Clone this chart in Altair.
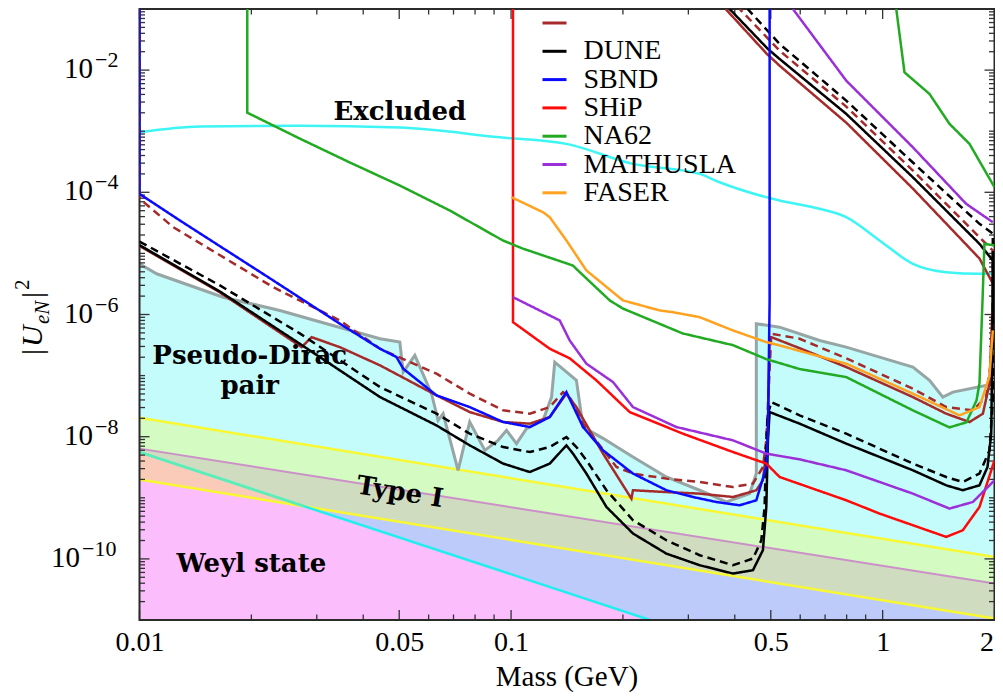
import altair as alt
import pandas as pd

FONT = "Liberation Serif"
BFONT = "DejaVu Serif"

# ---------------- data (mass in GeV, |U_eN|^2) ----------------
legend_names = [" ", "DUNE", "SBND", "SHiP", "NA62", "MATHUSLA", "FASER"]
legend_colors = ["#a52a2a", "#000000", "#0a0aff", "#ff0a0a", "#22aa22", "#9b30d9", "#ffa21f"]

brown_m = [0.0100, 0.01646, 0.02731, 0.02905, 0.03461, 0.0444, 0.0630, 0.0774, 0.0952, 0.1123,
           0.1271, 0.1409, 0.1499, 0.1768, 0.2108, 0.2129, 0.2618, 0.3218, 0.3955, 0.4571,
           0.4762, 0.4903, 0.4964, 0.5016, 0.5978, 0.798, 1.206, 1.483, 1.713, 1.861,
           1.939, 1.979, 1.979, 1.822, 1.206, 0.798, 0.5281, 0.4872, 0.378]
brown_u = [1.32e-5, 2.3e-6, 2.92e-7, 4.26e-7, 2.92e-7, 1.47e-7, 4.75e-8, 2.53e-8, 1.74e-8, 1.635e-8,
           2.10e-8, 5.06e-8, 3.05e-8, 5.28e-9, 9.70e-10, 1.33e-9, 1.24e-9, 1.17e-9, 1.03e-9, 1.33e-9,
           1.93e-9, 8.72e-9, 4.26e-7, 4.26e-7, 2.81e-7, 1.38e-7, 4.45e-8, 2.38e-8, 1.74e-8, 2.38e-8,
           7.37e-8, 1.70e-6, 3.22e-6, 8.25e-6, 1.15e-4, 1.38e-3, 1.18e-2, 1.86e-2, 0.1]

brownd_m = [0.0100, 0.0100, 0.01233, 0.0229, 0.03461, 0.0444, 0.0630, 0.0774, 0.0952, 0.1123,
            0.1271, 0.138, 0.1438, 0.1562, 0.1921, 0.2129, 0.2618, 0.3218, 0.3955, 0.4477,
            0.4762, 0.4863, 0.5016, 0.5978, 0.798, 1.206, 1.483, 1.749, 1.899, 1.979,
            1.979, 1.822, 1.206, 0.798, 0.5281, 0.4122]
brownd_u = [0.1, 7.90e-5, 2.68e-5, 2.80e-6, 7.99e-7, 2.75e-7, 1.075e-7, 5.06e-8, 2.70e-8, 2.38e-8,
            3.05e-8, 5.37e-8, 4.45e-8, 1.635e-8, 3.19e-9, 2.49e-9, 2.06e-9, 1.81e-9, 1.50e-9, 1.71e-9,
            3.19e-9, 8.72e-9, 4.85e-7, 4.01e-7, 1.92e-7, 6.11e-8, 3.05e-8, 2.70e-8, 4.45e-8, 2.81e-7,
            1.116e-5, 1.84e-5, 2.27e-4, 2.53e-3, 2.08e-2, 0.1]

dune_m = [0.0100, 0.01646, 0.0270, 0.0444, 0.0630, 0.0774, 0.0952, 0.1123, 0.1271, 0.1409,
          0.1468, 0.1595, 0.1806, 0.2129, 0.2618, 0.3218, 0.3955, 0.4477, 0.4762, 0.4863,
          0.4912, 0.4964, 0.5978, 0.798, 1.206, 1.483, 1.643, 1.822, 1.915, 1.960,
          1.979, 1.979, 1.822, 1.206, 0.798, 0.5281, 0.4903, 0.3874]
dune_u = [1.37e-5, 2.38e-6, 3.32e-7, 4.45e-8, 1.53e-8, 7.22e-9, 3.63e-9, 2.64e-9, 3.63e-9, 7.22e-9,
          5.28e-9, 2.49e-9, 7.07e-10, 2.60e-10, 1.22e-10, 7.88e-11, 5.76e-11, 6.53e-11, 1.39e-10, 7.07e-10,
          8.72e-9, 2.53e-8, 1.635e-8, 7.70e-9, 2.82e-9, 1.60e-9, 1.33e-9, 1.60e-9, 3.19e-9, 1.12e-8,
          1.70e-6, 7.65e-6, 1.435e-5, 1.76e-4, 1.92e-3, 1.52e-2, 2.24e-2, 0.1]

duned_m = [0.0100, 0.01646, 0.0270, 0.0444, 0.0630, 0.0774, 0.0952, 0.1123, 0.1271, 0.1409,
           0.1499, 0.1595, 0.1806, 0.2129, 0.2618, 0.3218, 0.3955, 0.4477, 0.4715, 0.4812,
           0.4863, 0.4903, 0.5016, 0.5978, 0.798, 1.206, 1.483, 1.643, 1.822, 1.939,
           1.979, 1.979, 1.822, 1.206, 0.798, 0.5281, 0.4332]
duned_u = [1.565e-5, 2.99e-6, 4.90e-7, 6.49e-8, 2.38e-8, 1.12e-8, 6.77e-9, 5.61e-9, 6.77e-9, 9.87e-9,
           6.77e-9, 4.11e-9, 1.33e-9, 4.29e-10, 2.02e-10, 1.148e-10, 7.88e-11, 1.013e-10, 2.02e-10, 7.07e-10,
           8.72e-9, 2.235e-8, 3.69e-8, 2.235e-8, 1.12e-8, 3.63e-9, 2.19e-9, 1.81e-9, 2.49e-9, 5.98e-9,
           3.93e-8, 2.12e-5, 3.05e-5, 3.07e-4, 3.17e-3, 2.68e-2, 0.1]

sbnd_m = [0.0100, 0.0100, 0.01285, 0.0229, 0.03461, 0.0444, 0.04918, 0.05124, 0.0630, 0.0774,
          0.0952, 0.1123, 0.1271, 0.1409, 0.1562, 0.1768, 0.2129, 0.2618, 0.3087, 0.3568,
          0.4122, 0.4571, 0.4863, 0.4912, 0.4964, 0.4964]
sbnd_u = [0.1, 9.43e-5, 3.45e-5, 3.61e-6, 7.06e-7, 2.75e-7, 2.01e-7, 1.30e-7, 4.75e-8, 3.05e-8,
          1.74e-8, 1.44e-8, 2.10e-8, 5.37e-8, 1.44e-8, 5.98e-9, 2.49e-9, 1.33e-9, 1.03e-9, 8.54e-10,
          7.54e-10, 9.11e-10, 3.19e-9, 1.12e-8, 1.70e-6, 0.1]

ship_m = [0.1012, 0.1012, 0.1271, 0.1438, 0.1697, 0.2086, 0.2901, 0.3955, 0.4863, 0.5281,
          0.798, 0.981, 1.483, 1.643, 1.822, 2.0]
ship_u = [0.1, 7.50e-7, 2.75e-7, 1.92e-7, 8.35e-8, 2.53e-8, 1.12e-8, 5.61e-9, 3.63e-9, 2.19e-9,
          9.11e-10, 5.52e-10, 2.29e-10, 2.94e-10, 7.07e-10, 4.11e-9]

na62_m = [0.0195, 0.0195, 0.0270, 0.03684, 0.05019, 0.06842, 0.0950, 0.1075, 0.1466, 0.1595,
          0.1843, 0.1997, 0.2896, 0.3955, 0.4863, 0.5978, 0.798, 1.206, 1.513, 1.681,
          1.789, 1.822, 1.857, 1.879, 2.0]
na62_u = [0.1, 2.01e-3, 7.57e-4, 3.07e-4, 1.29e-4, 5.03e-5, 1.63e-5, 1.20e-5, 6.34e-6, 3.89e-6,
          1.70e-6, 1.256e-6, 4.90e-7, 3.15e-7, 1.86e-7, 1.28e-7, 9.45e-8, 2.70e-8, 1.42e-8, 1.72e-8,
          3.93e-8, 7.45e-8, 1.70e-6, 1.435e-5, 1.35e-5]
na62_up_m = [1.088, 1.145, 1.337, 1.513, 1.713, 2.0]
na62_up_u = [0.1, 9.19e-3, 4.07e-3, 1.32e-3, 6.20e-4, 1.21e-4]

math_m = [0.1012, 0.1352, 0.1438, 0.1595, 0.1881, 0.2129, 0.2785, 0.3955, 0.4863, 0.5978,
          0.798, 1.206, 1.513, 1.749, 2.0]
math_u = [1.92e-6, 7.99e-7, 3.76e-7, 1.565e-7, 7.83e-8, 3.05e-8, 1.44e-8, 8.72e-9, 5.28e-9, 4.26e-9,
          2.82e-9, 1.17e-9, 6.66e-10, 8.54e-10, 1.93e-9]
math_up_m = [0.5735, 0.798, 1.206, 1.678, 1.979]
math_up_u = [0.1, 6.72e-3, 5.45e-4, 6.47e-5, 3.24e-5]

faser_m = [0.1002, 0.1219, 0.1271, 0.1409, 0.1595, 0.2001, 0.2512, 0.2728, 0.3218, 0.3955,
           0.4863, 0.5281, 0.798, 1.206, 1.610, 1.822, 1.939, 1.979]
faser_u = [8.30e-5, 4.72e-5, 3.91e-5, 1.63e-5, 5.25e-6, 1.70e-6, 1.165e-6, 1.09e-6, 9.05e-7, 5.48e-7,
           3.53e-7, 3.12e-7, 1.565e-7, 5.06e-8, 2.235e-8, 3.05e-8, 9.75e-8, 5.48e-7]

# existing bound (light cyan line)
bound_m = [0.0100, 0.01455, 0.0270, 0.05019, 0.0932, 0.1409, 0.2129, 0.3218, 0.3642, 0.5281,
           0.6492, 0.798, 0.981, 1.206, 1.483, 1.822, 2.0]
bound_u = [9.60e-4, 1.19e-3, 1.23e-3, 1.145e-3, 7.95e-4, 6.20e-4, 2.92e-4, 2.00e-4, 1.46e-4, 7.33e-5,
           5.69e-5, 3.91e-5, 1.63e-5, 6.76e-6, 4.93e-6, 4.64e-6, 4.64e-6]

# pseudo-Dirac region boundary (gray)
gray_m = [0.0100, 0.01112, 0.0168, 0.02387, 0.03188, 0.0444, 0.05019, 0.05124, 0.05508, 0.06108,
          0.06362, 0.06564, 0.07201, 0.0774, 0.0850, 0.09226, 0.0972, 0.1034, 0.1100, 0.1219,
          0.1285, 0.1311, 0.1499, 0.1562, 0.1768, 0.2129, 0.2618, 0.3218, 0.3796, 0.4385,
          0.4571, 0.4571, 0.5281, 0.6767, 0.798, 0.981, 1.206, 1.337, 1.452, 1.545, 2.0]
gray_u = [6.76e-6, 4.64e-6, 1.92e-6, 1.165e-6, 7.06e-7, 4.01e-7, 3.53e-7, 1.14e-7, 2.14e-7, 5.06e-8,
          1.85e-8, 2.38e-8, 2.82e-9, 1.74e-8, 5.98e-9, 8.72e-9, 1.27e-8, 7.70e-9, 1.35e-8, 1.85e-8,
          4.45e-8, 1.66e-7, 8.35e-8, 1.44e-8, 9.40e-9, 4.65e-9, 2.19e-9, 1.33e-9, 8.54e-10, 1.17e-9,
          2.49e-9, 7.06e-7, 6.21e-7, 3.76e-7, 2.92e-7, 2.01e-7, 1.38e-7, 8.35e-8, 4.45e-8, 5.37e-8, 7.37e-8]

# Type I band and Weyl line
band_m = [0.01, 2.0]
band_hi = [2.05e-8, 1.07e-10]
band_mid = [6.38e-9, 3.95e-11]
band_lo = [1.985e-9, 1.06e-11]
weyl_m = [0.01, 0.2366]
weyl_u = [5.6e-9, 1.0e-11]
overlap_m = [0.01, 0.02786]
overlap_top = [5.6e-9, 7.21e-10]
overlap_bot = [1.985e-9, 7.21e-10]
U_MIN = 1e-11

# axis ticks
x_label_vals = [0.01, 0.05, 0.1, 0.5, 1, 2]
x_minor_vals = [0.02, 0.03, 0.04, 0.06, 0.07, 0.08, 0.09, 0.2, 0.3, 0.4, 0.6, 0.7, 0.8, 0.9]
y_label_vals = [1e-2, 1e-4, 1e-6, 1e-8, 1e-10]
y_label_exp = ["\u22122", "\u22124", "\u22126", "\u22128", "\u221210"]
y_minor_vals = [k * 10.0 ** e for e in range(-11, -1) for k in range(1, 10)
                if not (k == 1 and e % 2 == 0) and not (k == 1 and e == -11)]

# annotations
ann_text = ["Excluded", "Pseudo-Dirac", "pair", "Weyl state"]
ann_m = [0.0502, 0.0198, 0.0198, 0.0200]
ann_u = [1.52e-3, 1.565e-7, 5.06e-8, 6.12e-11]

# ---------------- chart ----------------
W, H = 855, 611
TICK = "#333333"

xs = alt.Scale(type="log", domain=[0.01, 2], nice=False)
ys = alt.Scale(type="log", domain=[U_MIN, 0.1], nice=False)
xaxis = alt.Axis(values=x_label_vals, format="~g", labelFont=FONT, labelFontSize=28,
                 labelColor="black", labelPadding=8, ticks=False, tickSize=0, domain=False,
                 grid=False, labelFlush=False, labelOverlap=False, title=None,
                 labelAlign={"condition": {"test": "datum.value >= 2", "value": "right"},
                             "value": "center"},
                 labelOffset={"condition": {"test": "datum.value >= 2", "value": -1},
                              "value": 0})


def X(f="m"):
    return alt.X(f"{f}:Q", scale=xs, axis=xaxis)


def Y(f="u"):
    return alt.Y(f"{f}:Q", scale=ys, axis=None)


gray_df = pd.DataFrame({"m": gray_m, "u": gray_u, "idx": list(range(len(gray_m)))})
gray_df["b"] = U_MIN
band_df = pd.DataFrame({"m": band_m, "hi": band_hi, "mid": band_mid, "lo": band_lo})
band_df["b"] = U_MIN
weyl_df = pd.DataFrame({"m": weyl_m, "u": weyl_u})
weyl_df["b"] = U_MIN
ov_df = pd.DataFrame({"m": overlap_m, "t": overlap_top, "lo": overlap_bot})
bound_df = pd.DataFrame({"m": bound_m, "u": bound_u})

fill_cyan = alt.Chart(gray_df).mark_area(color="#c4fbfb", opacity=1).encode(
    x=X(), y=Y(), y2=alt.Y2("b:Q"))
fill_green = alt.Chart(band_df).mark_area(color="#d3fbc2", opacity=1).encode(
    x=X(), y=Y("hi"), y2=alt.Y2("mid:Q"))
fill_olive = alt.Chart(band_df).mark_area(color="#d0dcbf", opacity=1).encode(
    x=X(), y=Y("mid"), y2=alt.Y2("lo:Q"))
fill_lav = alt.Chart(band_df).mark_area(color="#bdcbfb", opacity=1).encode(
    x=X(), y=Y("lo"), y2=alt.Y2("b:Q"))
fill_pink = alt.Chart(weyl_df).mark_area(color="#fbbdfb", opacity=1).encode(
    x=X(), y=Y(), y2=alt.Y2("b:Q"))
fill_salmon = alt.Chart(ov_df).mark_area(color="#fbcbb9", opacity=1).encode(
    x=X(), y=Y("t"), y2=alt.Y2("lo:Q"))

line_hi = alt.Chart(band_df).mark_line(color="#f8f832", strokeWidth=2.5).encode(x=X(), y=Y("hi"))
line_lo = alt.Chart(band_df).mark_line(color="#f8f832", strokeWidth=2.5).encode(x=X(), y=Y("lo"))
line_mid = alt.Chart(band_df).mark_line(color="#cc90c8", strokeWidth=2).encode(x=X(), y=Y("mid"))
line_weyl = alt.Chart(weyl_df).mark_line(color="#22eeee", strokeWidth=2.5).encode(x=X(), y=Y())
line_weyl2 = alt.Chart(ov_df).mark_line(color="#5eeeb4", strokeWidth=2.5).encode(x=X(), y=Y("t"))

line_gray = alt.Chart(gray_df).mark_line(color="#97a5a5", strokeWidth=3).encode(
    x=X(), y=Y(), order="idx:Q")
line_bound = alt.Chart(bound_df).mark_line(color="#3df5f5", strokeWidth=2.5,
                                           interpolate="monotone").encode(x=X(), y=Y())


def seg(series, style, sid, ms, us):
    return pd.DataFrame({"series": series, "style": style, "seg": sid,
                         "idx": list(range(len(ms))), "m": ms, "u": us})


exp_df = pd.concat([
    seg(" ", "dashed", "b_d", brownd_m, brownd_u),
    seg(" ", "solid", "b_s", brown_m, brown_u),
    seg("DUNE", "dashed", "d_d", duned_m, duned_u),
    seg("DUNE", "solid", "d_s", dune_m, dune_u),
    seg("SBND", "solid", "sb", sbnd_m, sbnd_u),
    seg("SHiP", "solid", "sh", ship_m, ship_u),
    seg("NA62", "solid", "na_l", na62_m, na62_u),
    seg("NA62", "solid", "na_u", na62_up_m, na62_up_u),
    seg("MATHUSLA", "solid", "ma_l", math_m, math_u),
    seg("MATHUSLA", "solid", "ma_u", math_up_m, math_up_u),
    seg("FASER", "solid", "fa", faser_m, faser_u),
], ignore_index=True)

exp = alt.Chart(exp_df).mark_line(strokeWidth=2.5, clip=True).encode(
    x=X(), y=Y(),
    color=alt.Color("series:N", scale=alt.Scale(domain=legend_names, range=legend_colors),
                    legend=alt.Legend(title=None, orient="none", legendX=401, legendY=0,
                                      symbolType="stroke", symbolSize=576, symbolStrokeWidth=3,
                                      labelFont=FONT, labelFontSize=28, labelColor="black",
                                      labelOffset=15, rowPadding=0.3, padding=0)),
    strokeDash=alt.StrokeDash("style:N", scale=alt.Scale(domain=["solid", "dashed"],
                                                         range=[[1, 0], [8, 5]]), legend=None),
    detail="seg:N",
    order="idx:Q",
)

ann_df = pd.DataFrame({"m": ann_m, "u": ann_u, "t": ann_text})
ann = alt.Chart(ann_df).mark_text(font=BFONT, fontWeight="bold", fontSize=26, align="center",
                                  baseline="alphabetic", color="black").encode(
    x=X(), y=Y(), text="t:N")
type1 = alt.Chart(pd.DataFrame({"m": [0.0502], "u": [1.23e-9], "t": ["Type I"]})).mark_text(
    font=BFONT, fontWeight="bold", fontSize=26, align="center", baseline="middle", angle=9,
    color="black").encode(x=X(), y=Y(), text="t:N")

# ticks (inward, on all four sides)
xmaj = pd.DataFrame({"m": x_label_vals})
xmin = pd.DataFrame({"m": x_minor_vals})
ymaj = pd.DataFrame({"u": y_label_vals})
ymin = pd.DataFrame({"u": y_minor_vals})
rk = dict(color=TICK, strokeWidth=1.3)
ticks = [
    alt.Chart(xmaj).mark_rule(**rk).encode(x=X(), y=alt.value(H), y2=alt.value(H - 10)),
    alt.Chart(xmaj).mark_rule(**rk).encode(x=X(), y=alt.value(0), y2=alt.value(10)),
    alt.Chart(xmin).mark_rule(**rk).encode(x=X(), y=alt.value(H), y2=alt.value(H - 5.5)),
    alt.Chart(xmin).mark_rule(**rk).encode(x=X(), y=alt.value(0), y2=alt.value(5.5)),
    alt.Chart(ymaj).mark_rule(**rk).encode(y=Y(), x=alt.value(0), x2=alt.value(10)),
    alt.Chart(ymaj).mark_rule(**rk).encode(y=Y(), x=alt.value(W), x2=alt.value(W - 10)),
    alt.Chart(ymin).mark_rule(**rk).encode(y=Y(), x=alt.value(0), x2=alt.value(5.5)),
    alt.Chart(ymin).mark_rule(**rk).encode(y=Y(), x=alt.value(W), x2=alt.value(W - 5.5)),
]
one = pd.DataFrame({"a": [0]})
frame = alt.Chart(one).mark_rect(filled=False, stroke="#2b2b2b", strokeWidth=2).encode(
    x=alt.value(0), x2=alt.value(W), y=alt.value(0), y2=alt.value(H))

# y tick labels 10^n
ylab_df = pd.DataFrame({"u": y_label_vals, "exp": y_label_exp, "base": "10"})
ylabs = []
for cond, xb, xe in [("length(datum.exp) <= 2", -46.5, -44.5), ("length(datum.exp) > 2", -59.5, -57.5)]:
    base = alt.Chart(ylab_df).transform_filter(cond)
    ylabs.append(base.mark_text(font=FONT, fontSize=29, align="right", baseline="alphabetic",
                                dy=8, color="black").encode(y=Y(), x=alt.value(xb), text="base:N"))
    ylabs.append(base.mark_text(font=FONT, fontSize=22, align="left", baseline="alphabetic",
                                dy=-3, color="black").encode(y=Y(), x=alt.value(xe), text="exp:N"))

# y title |U_eN|^2 (rotated)
ytitle = []
for txt, size, style, dx, dy in [("|", 30, "normal", 0, 0), ("U", 30, "italic", 8, 0),
                                 ("eN", 21, "italic", 31, 7), ("|", 30, "normal", 57, 0),
                                 ("2", 21, "normal", 65, -13)]:
    ytitle.append(alt.Chart(one).mark_text(font=FONT, fontSize=size, fontStyle=style, angle=270,
                                           align="left", baseline="alphabetic", dx=dx, dy=dy,
                                           color="black").encode(
        x=alt.value(-97.5), y=alt.value(346), text=alt.value(txt)))

xtitle = alt.Chart(one).mark_text(font=FONT, fontSize=29, align="center", baseline="alphabetic",
                                  color="black").encode(
    x=alt.value(W / 2), y=alt.value(H + 66), text=alt.value("Mass (GeV)"))

chart = alt.layer(
    fill_cyan, fill_green, fill_olive, fill_lav, fill_pink, fill_salmon,
    line_hi, line_lo, line_mid, line_weyl, line_weyl2,
    line_gray, line_bound, *ticks, frame, exp, ann, type1,
    *ylabs, *ytitle, xtitle,
).properties(
    width=W, height=H,
    padding={"left": 131.5, "top": 1, "right": 0, "bottom": 72},
    autosize=alt.AutoSizeParams(type="none"),
    background="white",
).configure_view(stroke=None)

chart.save("out.html", embed_options={"renderer": "svg", "actions": False})
